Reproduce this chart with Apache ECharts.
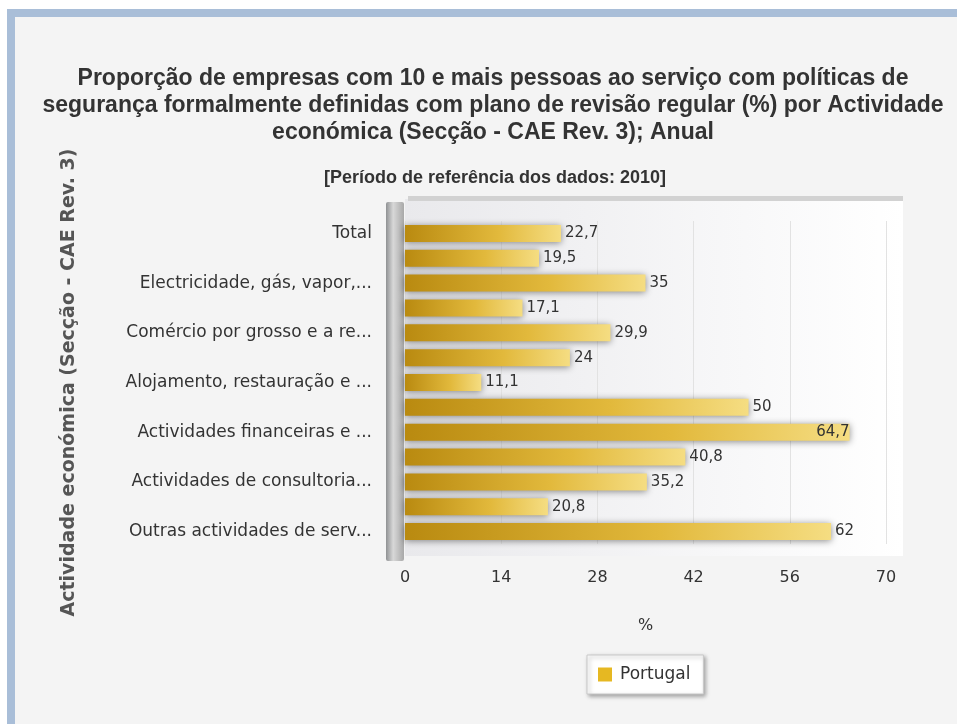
<!DOCTYPE html>
<html>
<head>
<meta charset="utf-8">
<script src="https://cdn.jsdelivr.net/npm/echarts@6/dist/echarts.min.js"></script>
<style>
html,body{margin:0;padding:0;background:#ffffff;}
#frame{position:absolute;left:7px;top:9px;width:950px;height:715px;box-sizing:border-box;background:#f4f4f4;border-top:8px solid #a9bed8;border-left:8px solid #a9bed8;}
#chart{position:absolute;left:0;top:0;width:957px;height:724px;}
</style>
</head>
<body>
<div id="frame"></div>
<div id="chart"></div>
<script>
const categories = [
  'Total',
  'Indústrias transformadoras',
  'Electricidade, gás, vapor, água quente e fria e ar frio',
  'Construção',
  'Comércio por grosso e a retalho; reparação de veículos automóveis e motociclos',
  'Transportes e armazenagem',
  'Alojamento, restauração e similares',
  'Actividades de informação e de comunicação',
  'Actividades financeiras e de seguros',
  'Actividades imobiliárias',
  'Actividades de consultoria, científicas, técnicas e similares',
  'Actividades administrativas e dos serviços de apoio',
  'Outras actividades de serviços'
];
const values = [22.7, 19.5, 35, 17.1, 29.9, 24, 11.1, 50, 64.7, 40.8, 35.2, 20.8, 62];
const xTicks = [0, 14, 28, 42, 56, 70];
const seriesName = 'Portugal';

const maxV = Math.max(...values);
const barData = values.map(v => v === maxV ? {value: v, label: {position: 'insideRight', offset: [4, 0]}} : v);

const chart = echarts.init(document.getElementById('chart'), null, {renderer: 'canvas'});
const font = 'DejaVu Sans, Verdana, sans-serif';
const tfont = 'Liberation Sans, Arial, sans-serif';
chart.setOption({
  backgroundColor: 'transparent',
  animation: false,
  title: [{
    text: 'Proporção de empresas com 10 e mais pessoas ao serviço com políticas de\nsegurança formalmente definidas com plano de revisão regular (%) por Actividade\neconómica (Secção - CAE Rev. 3); Anual',
    left: 488, top: 60, textAlign: 'center',
    textStyle: {fontFamily: tfont, fontSize: 23, fontWeight: 'bold', color: '#333', lineHeight: 27}
  }, {
    text: '[Período de referência dos dados: 2010]',
    left: 490, top: 164, textAlign: 'center',
    textStyle: {fontFamily: tfont, fontSize: 18, fontWeight: 'bold', color: '#333'}
  }],
  graphic: [
    {type: 'rect', z: -10, shape: {x: 405, y: 199, width: 498, height: 357},
     style: {fill: new echarts.graphic.LinearGradient(0, 0, 1, 0, [{offset: 0, color: '#e9e9ec'}, {offset: 1, color: '#ffffff'}])}},
    {type: 'rect', z: -9, shape: {x: 408, y: 196, width: 495, height: 5},
     style: {fill: '#d2d2d2'}},
    {type: 'rect', z: -8, shape: {x: 386, y: 202, width: 18, height: 359, r: 2},
     style: {fill: new echarts.graphic.LinearGradient(0, 0, 1, 0, [{offset: 0, color: '#8f9193'}, {offset: 0.4, color: '#d8d8d8'}, {offset: 1, color: '#a8a8a8'}])}}
  ],
  grid: {left: 405, right: 71, top: 221, bottom: 180, containLabel: false},
  legend: {
    data: [{name: seriesName, itemStyle: {color: '#e6b822'}}],
    left: 587, top: 655, itemWidth: 14, itemHeight: 14, icon: 'rect', itemGap: 8,
    padding: [11, 13, 11, 11],
    backgroundColor: '#ffffff', borderColor: '#c8c8c8', borderWidth: 1,
    shadowBlur: 4, shadowColor: 'rgba(0,0,0,0.35)', shadowOffsetX: 2, shadowOffsetY: 2,
    textStyle: {fontFamily: font, fontSize: 17, color: '#333', padding: [0, 0, 0, 3]}
  },
  xAxis: {
    type: 'value', min: 0, max: 70, interval: 14,
    name: '%', nameLocation: 'middle', nameGap: 74,
    nameTextStyle: {fontFamily: font, fontSize: 16, color: '#333'},
    axisLine: {show: false}, axisTick: {show: false},
    axisLabel: {margin: 26, fontFamily: font, fontSize: 16, color: '#333',
      formatter: v => xTicks.includes(v) ? String(v) : ''},
    splitLine: {show: true, lineStyle: {color: '#e2e2e2', width: 1}}
  },
  yAxis: {
    type: 'category', data: categories, inverse: true,
    name: 'Actividade económica (Secção - CAE Rev. 3)', nameLocation: 'middle', nameRotate: 90, nameGap: 326,
    nameTextStyle: {fontFamily: font, fontSize: 19, fontWeight: 'bold', color: '#555'},
    axisLine: {show: false}, axisTick: {show: false},
    axisLabel: {interval: 1, margin: 33, fontFamily: font, fontSize: 17, color: '#333',
      formatter: s => s.length > 26 ? s.slice(0, 26) + '...' : s}
  },
  series: [{
    name: seriesName, type: 'bar', data: barData, barWidth: 17,
    itemStyle: {
      color: new echarts.graphic.LinearGradient(0, 0, 1, 0, [
        {offset: 0, color: '#b98a10'}, {offset: 0.6, color: '#e2b93c'}, {offset: 1, color: '#f5dd82'}]),
      shadowBlur: 7, shadowColor: 'rgba(0,0,0,0.45)', shadowOffsetY: 1
    },
    label: {show: true, position: 'right', distance: 4, fontFamily: font, fontSize: 15, color: '#333',
      formatter: p => String(p.value).replace('.', ',')}
  }]
});
</script>
</body>
</html>
